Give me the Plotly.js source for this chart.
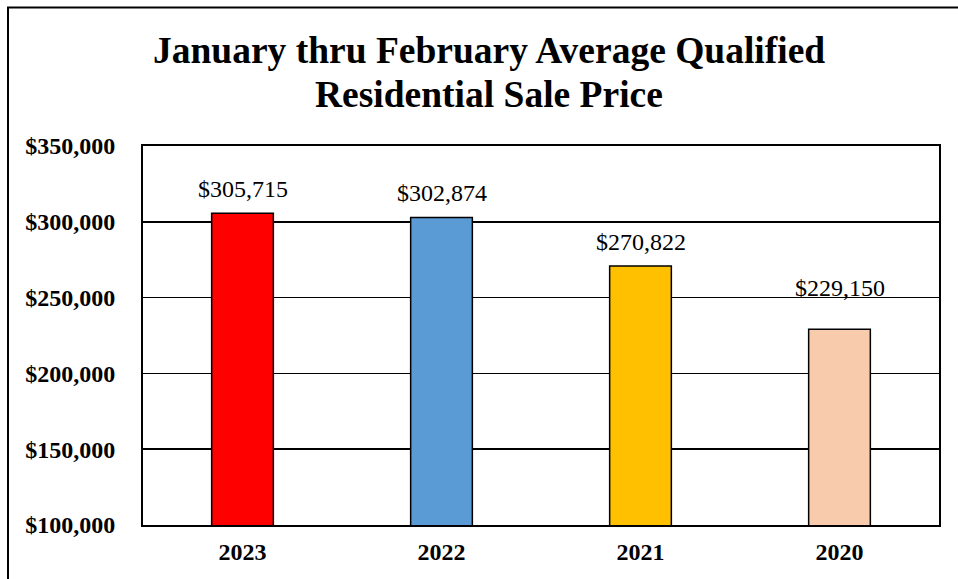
<!DOCTYPE html>
<html>
<head>
<meta charset="utf-8">
<script src="https://cdn.plot.ly/plotly-3.0.1.min.js"></script>
<style>html,body{margin:0;padding:0;background:#fff;}#chart{width:958px;height:579px;}</style>
</head>
<body>
<div id="chart"></div>
<script>
const years = ['2023', '2022', '2021', '2020'];
const avgPrice = [305715, 302874, 270822, 229150];
const barColors = ['#FF0000', '#5B9BD5', '#FFC000', '#F8CBAD'];
const tickVals = [100000, 150000, 200000, 250000, 300000, 350000];
const tickText = ['$100,000', '$150,000', '$200,000', '$250,000', '$300,000', '$350,000'];
const titleLines = ['January thru February Average Qualified', 'Residential Sale Price'];
const labelLift = [9, 9, 9, 26];

const serif = '"Liberation Serif", "Times New Roman", serif';

const trace = {
  type: 'bar',
  x: years,
  y: avgPrice,
  marker: {color: barColors, line: {color: '#000', width: 1.5}},
  hoverinfo: 'skip'
};

const annotations = years.map((yr, i) => ({
  x: i, y: avgPrice[i], xref: 'x', yref: 'y',
  text: '$' + avgPrice[i].toLocaleString('en-US'),
  showarrow: false, yanchor: 'bottom', yshift: labelLift[i],
  font: {family: serif, size: 24, color: '#000'}
}));

const titleY = [51, 94];
titleLines.forEach((line, i) => annotations.push({
  xref: 'paper', yref: 'paper', x: (489 - 143) / 796, y: 1 + (146 - titleY[i]) / 379,
  xanchor: 'center', yanchor: 'middle', showarrow: false,
  text: '<b>' + line + '</b>',
  font: {family: serif, size: 37.5, color: '#000'}
}));

const layout = {
  width: 958, height: 579,
  margin: {l: 143, r: 19, t: 146, b: 54, pad: 0},
  paper_bgcolor: '#fff', plot_bgcolor: '#fff',
  showlegend: false,
  bargap: 0.69,
  xaxis: {
    type: 'category', range: [-0.5, 3.5], showgrid: false, zeroline: false,
    showline: true, linecolor: '#000', linewidth: 2, mirror: true,
    ticks: '', ticklabelstandoff: 4,
    tickfont: {family: serif, size: 24, color: '#000', weight: 'bold'}
  },
  yaxis: {
    range: [100000, 350000], tickvals: tickVals, ticktext: tickText,
    showgrid: true, gridcolor: '#000', gridwidth: 1.5, zeroline: false,
    showline: true, linecolor: '#000', linewidth: 2, mirror: true,
    ticks: '', ticklabelstandoff: 21,
    tickfont: {family: serif, size: 24, color: '#000', weight: 'bold'}
  },
  annotations: annotations,
  shapes: [{
    type: 'rect', xref: 'paper', yref: 'paper',
    x0: (8 - 143) / 796, x1: 1.2, y0: -0.4, y1: 1 + (146 - 7.5) / 379,
    line: {color: '#000', width: 2}, fillcolor: 'rgba(0,0,0,0)', layer: 'above'
  }]
};

Plotly.newPlot('chart', [trace], layout, {displayModeBar: false, staticPlot: true});
</script>
</body>
</html>
